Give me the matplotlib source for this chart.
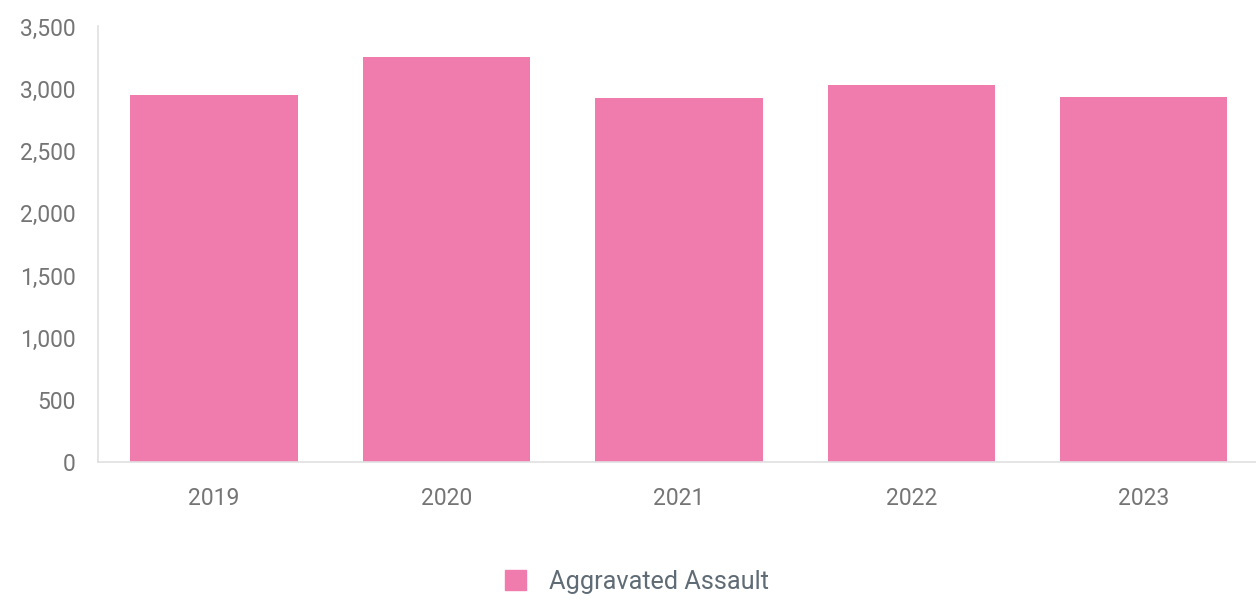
import matplotlib.pyplot as plt
import matplotlib.ticker as mtick
from matplotlib.patches import Patch

plt.rcParams["font.family"] = ["Roboto", "DejaVu Sans"]

years = ["2019", "2020", "2021", "2022", "2023"]
assaults = [2950, 3258, 2923, 3030, 2931]

bar_color = "#f07cae"
tick_color = "#757575"

fig = plt.figure(figsize=(12.56, 6.02), dpi=100)
ax = fig.add_axes([0.078, 0.232, 0.925, 0.724])

ax.bar(years, assaults, width=0.72, color=bar_color, zorder=2)

ax.set_xlim(-0.5, 4.5)
ax.set_ylim(0, 3500)
ax.yaxis.set_major_locator(mtick.MultipleLocator(500))
ax.yaxis.set_major_formatter(mtick.StrMethodFormatter("{x:,.0f}"))

for side in ["top", "right"]:
    ax.spines[side].set_visible(False)
for side in ["left", "bottom"]:
    ax.spines[side].set_color("#e0e0e0")
    ax.spines[side].set_linewidth(1.2)

ax.tick_params(axis="both", length=0, labelsize=16.5, labelcolor=tick_color)
ax.tick_params(axis="y", pad=16)
ax.tick_params(axis="x", pad=18)

fig.legend(
    handles=[Patch(color=bar_color, label="Aggravated Assault")],
    loc="center",
    bbox_to_anchor=(0.507, 0.033),
    frameon=False,
    fontsize=18.2,
    labelcolor="#5f6b75",
    handlelength=0.85,
    handleheight=0.85,
    handletextpad=0.9,
)

fig.savefig("out.png", dpi=100)
